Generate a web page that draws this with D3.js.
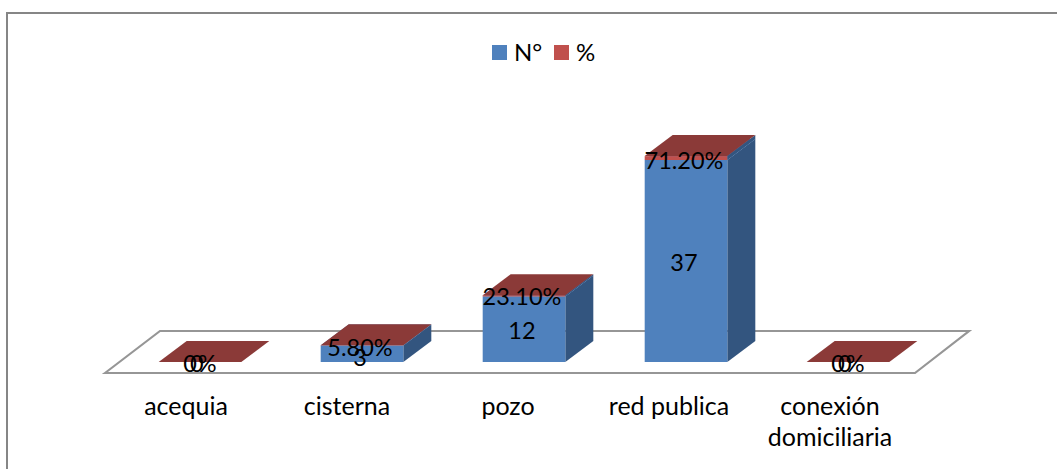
<!DOCTYPE html>
<html><head><meta charset="utf-8">
<script src="https://cdn.jsdelivr.net/npm/d3@7"></script>
<style>html,body{margin:0;padding:0;background:#fff}svg{display:block}text{font-family:Lato,"Open Sans",sans-serif;fill:#000}</style>
</head><body><svg id="c" width="1057" height="469"></svg>
<script>
const categories = ["acequia","cisterna","pozo","red publica","conexión domiciliaria"];
const categoryLines = [["acequia"],["cisterna"],["pozo"],["red publica"],["conexión","domiciliaria"]];
const countValues = [0,3,12,37,0];
const percentValues = [0,0.058,0.231,0.712,0];
const countLabels = ["0","3","12","37","0"];
const percentLabels = ["0%","5.80%","23.10%","71.20%","0%"];
const legendItems = ["N°","%"];

const W=1057,H=469,baseY=362,depthX=28,depthY=21;
const svg=d3.select("#c");
const x=d3.scaleBand().domain(categories).range([119,929]).paddingInner(0.49).paddingOuter(0.245);
const xLabel=d3.scalePoint().domain(categories).range([186,830]);
const y=d3.scaleLinear().domain([0,37]).range([baseY,160]);
const path=d3.line();

// chart frame: top and left edges only
svg.append("path").attr("d",path([[7,469],[7,13],[1057,13]])).attr("fill","none").attr("stroke","#868686").attr("stroke-width",2);

// floor
svg.append("path").attr("d",path([[105,373],[160,331],[969,331],[915,373]])+"Z").attr("fill","#fff").attr("stroke","#969696").attr("stroke-width",2.2);

function box(g,x0,w,yBot,yTop,front,side,top){
  if(yBot-yTop>0.01){
    g.append("path").attr("d",path([[x0+w,yBot],[x0+w+depthX,yBot-depthY],[x0+w+depthX,yTop-depthY],[x0+w,yTop]])+"Z").attr("fill",side);
    g.append("rect").attr("x",x0).attr("y",yTop).attr("width",w).attr("height",yBot-yTop).attr("fill",front);
  }
  g.append("path").attr("d",path([[x0,yTop],[x0+depthX,yTop-depthY],[x0+w+depthX,yTop-depthY],[x0+w,yTop]])+"Z").attr("fill",top);
}
const bars=svg.append("g");
categories.forEach((c,i)=>{
  const g=bars.append("g"),x0=x(c),w=x.bandwidth();
  const v=countValues[i],p=percentValues[i];
  if(v>0) box(g,x0,w,y(0),y(v),"#4F81BD","#33557F","#4F81BD");
  box(g,x0,w,y(v),y(v+p),"#C0504D","#33557F","#8B3A38");
});

// data labels
const labels=svg.append("g").attr("font-size",23.5).attr("text-anchor","middle").attr("dominant-baseline","central");
categories.forEach((c,i)=>{
  const cx=x(c)+x.bandwidth()/2-2,v=countValues[i],p=percentValues[i];
  labels.append("text").attr("x",cx-8).attr("y",v===0?363:(v===3?357:y(v/2)+1)).attr("x",v===0?cx-8:cx).text(countLabels[i]);
  const t=labels.append("text").attr("y",v===0?363:(y(v+p/2)+(v===3?1.5:(v===12?0:2)))).text(percentLabels[i]);
  if(v===0) t.attr("x",cx-8).attr("text-anchor","start").attr("letter-spacing",-6);
  else t.attr("x",cx);
});

// category labels
const cats=svg.append("g").attr("font-size",25).attr("text-anchor","middle");
categoryLines.forEach((ls,i)=>{
  ls.forEach((l,j)=>cats.append("text").attr("x",xLabel(categories[i])).attr("y",415+j*31).text(l));
});

// legend
const legend=svg.append("g").attr("font-size",24);
const legendX=[492,554],legendCol=["#4F81BD","#C0504D"];
legendItems.forEach((t,i)=>{
  legend.append("rect").attr("x",legendX[i]).attr("y",45).attr("width",15).attr("height",15).attr("fill",legendCol[i]);
  legend.append("text").attr("x",legendX[i]+22).attr("y",60.5).text(t);
});
</script></body></html>
